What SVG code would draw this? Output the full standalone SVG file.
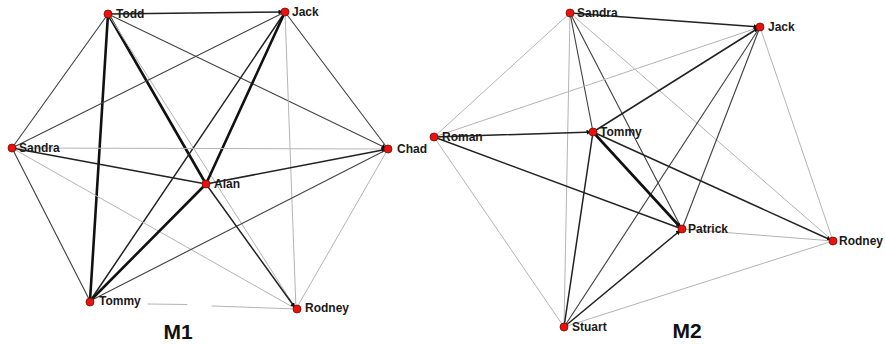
<svg xmlns="http://www.w3.org/2000/svg" width="886" height="344" viewBox="0 0 886 344">
<defs>
<style>
.e{fill:none;stroke-linecap:round}
.l{stroke:#b4b4b4;stroke-width:1}
.m{stroke:#444;stroke-width:1.15}
.d{stroke:#222;stroke-width:1.5}
.t{stroke:#111;stroke-width:2.6}
.n circle{fill:#e8130c;stroke:#7a0a05;stroke-width:0.8}
.n text{font-family:"Liberation Sans",Arial,sans-serif;font-weight:bold;font-size:12px;fill:#1a1a1a}
.cap{font-family:"Liberation Sans",Arial,sans-serif;font-weight:bold;font-size:21px;fill:#111;text-anchor:middle}
</style>
<marker id="ar" viewBox="0 0 10 10" refX="13" refY="5" markerWidth="5" markerHeight="5" markerUnits="userSpaceOnUse" orient="auto">
<path d="M0,0 L10,5 L0,10 z" fill="#111"/>
</marker>
</defs>
<rect width="886" height="344" fill="#fff"/>
<g id="connectors">
<!-- M1 -->
<line class="e d" x1="108" y1="14" x2="285" y2="12" marker-end="url(#ar)"/>
<line class="e m" x1="108" y1="14" x2="12" y2="148"/>
<line class="e t" x1="108" y1="14" x2="90" y2="301"/>
<line class="e t" x1="108" y1="14" x2="206" y2="184"/>
<line class="e m" x1="108" y1="14" x2="388" y2="149" marker-end="url(#ar)"/>
<line class="e l" x1="108" y1="14" x2="296" y2="309"/>
<line class="e m" x1="285" y1="12" x2="12" y2="148"/>
<line class="e d" x1="285" y1="12" x2="90" y2="301"/>
<line class="e t" x1="285" y1="12" x2="206" y2="184"/>
<line class="e m" x1="285" y1="12" x2="388" y2="149"/>
<line class="e l" x1="285" y1="12" x2="296" y2="309"/>
<line class="e l" x1="12" y1="148" x2="388" y2="149" marker-end="url(#ar)"/>
<line class="e d" x1="12" y1="148" x2="206" y2="184"/>
<line class="e m" x1="12" y1="148" x2="90" y2="301"/>
<line class="e l" x1="12" y1="148" x2="296" y2="309"/>
<line class="e d" x1="206" y1="184" x2="388" y2="149" marker-end="url(#ar)"/>
<line class="e m" x1="90" y1="301" x2="388" y2="149"/>
<line class="e l" x1="388" y1="149" x2="296" y2="309"/>
<line class="e t" x1="206" y1="184" x2="90" y2="301"/>
<line class="e d" x1="206" y1="184" x2="296" y2="309" marker-end="url(#ar)"/>
<line class="e l" x1="148" y1="304" x2="187" y2="304.5"/>
<line class="e l" x1="212" y1="306" x2="296" y2="309"/>
<!-- M2 -->
<line class="e d" x1="570" y1="13" x2="760" y2="27" marker-end="url(#ar)"/>
<line class="e l" x1="570" y1="13" x2="434" y2="137"/>
<line class="e l" x1="570" y1="13" x2="564" y2="327"/>
<line class="e m" x1="570" y1="13" x2="593" y2="132"/>
<line class="e m" x1="570" y1="13" x2="682" y2="229"/>
<line class="e l" x1="570" y1="13" x2="833" y2="241"/>
<line class="e l" x1="760" y1="27" x2="434" y2="137"/>
<line class="e d" x1="593" y1="132" x2="760" y2="27" marker-end="url(#ar)"/>
<line class="e m" x1="760" y1="27" x2="564" y2="327"/>
<line class="e m" x1="760" y1="27" x2="682" y2="229"/>
<line class="e l" x1="760" y1="27" x2="833" y2="241"/>
<line class="e d" x1="434" y1="137" x2="593" y2="132" marker-end="url(#ar)"/>
<line class="e d" x1="434" y1="137" x2="682" y2="229"/>
<line class="e l" x1="434" y1="137" x2="564" y2="327"/>
<line class="e t" x1="593" y1="132" x2="682" y2="229" marker-end="url(#ar)"/>
<line class="e d" x1="593" y1="132" x2="833" y2="241" marker-end="url(#ar)"/>
<line class="e d" x1="593" y1="132" x2="564" y2="327"/>
<line class="e l" x1="682" y1="229" x2="833" y2="241"/>
<line class="e d" x1="564" y1="327" x2="682" y2="229" marker-end="url(#ar)"/>
<line class="e l" x1="564" y1="327" x2="833" y2="241"/>
</g>
<g id="m1-todd" class="n"><circle cx="108" cy="14" r="4"/><text x="116" y="18">Todd</text></g>
<g id="m1-jack" class="n"><circle cx="285" cy="12" r="4"/><text x="292" y="16">Jack</text></g>
<g id="m1-sandra" class="n"><circle cx="12" cy="148" r="4"/><text x="19" y="152">Sandra</text></g>
<g id="m1-chad" class="n"><circle cx="388" cy="149" r="4"/><text x="397" y="153">Chad</text></g>
<g id="m1-alan" class="n"><circle cx="206" cy="184" r="4"/><text x="214" y="188">Alan</text></g>
<g id="m1-tommy" class="n"><circle cx="90" cy="302" r="4"/><text x="99" y="305">Tommy</text></g>
<g id="m1-rodney" class="n"><circle cx="297" cy="309" r="4"/><text x="305" y="312">Rodney</text></g>
<g id="m2-sandra" class="n"><circle cx="570" cy="13" r="4"/><text x="577" y="17">Sandra</text></g>
<g id="m2-jack" class="n"><circle cx="760" cy="27" r="4"/><text x="768" y="31">Jack</text></g>
<g id="m2-roman" class="n"><circle cx="434" cy="137" r="4"/><text x="442" y="141">Roman</text></g>
<g id="m2-tommy" class="n"><circle cx="593" cy="132" r="4"/><text x="600" y="136">Tommy</text></g>
<g id="m2-patrick" class="n"><circle cx="682" cy="229" r="4"/><text x="688" y="233">Patrick</text></g>
<g id="m2-rodney" class="n"><circle cx="833" cy="241" r="4"/><text x="839" y="245">Rodney</text></g>
<g id="m2-stuart" class="n"><circle cx="564" cy="327" r="4"/><text x="572" y="331">Stuart</text></g>
<text class="cap" x="178" y="339">M1</text>
<text class="cap" x="687" y="338">M2</text>
</svg>
